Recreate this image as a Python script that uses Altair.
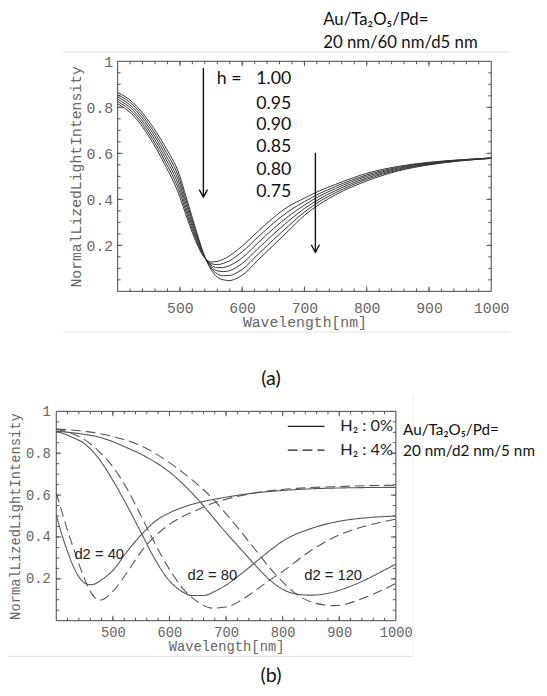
import altair as alt
import pandas as pd

# ---------------- panel (a) data ----------------
wl_a = [400, 425, 450, 475, 500, 510, 520, 530, 540, 550, 560, 570, 580,
        590, 600, 625, 650, 675, 700, 725, 750, 800, 850, 900, 950, 1000]
h_values = ["1.00", "0.95", "0.90", "0.85", "0.80", "0.75"]
I_h100 = [.815, .765, .675, .555, .410, .330, .255, .190, .145, .128, .130, .140, .155,
          .175, .197, .260, .320, .370, .405, .438, .465, .513, .543, .561, .572, .580]
I_h095 = [.825, .776, .688, .571, .428, .346, .268, .198, .146, .121, .116, .122, .133,
          .151, .172, .235, .296, .349, .390, .426, .456, .506, .539, .559, .571, .580]
I_h090 = [.835, .787, .701, .587, .446, .362, .281, .206, .147, .115, .103, .104, .112,
          .127, .146, .210, .272, .328, .375, .415, .447, .500, .535, .557, .570, .579]
I_h085 = [.845, .798, .714, .603, .464, .378, .294, .214, .148, .108, .089, .086, .090,
          .103, .121, .185, .248, .307, .360, .403, .438, .493, .531, .554, .569, .579]
I_h080 = [.855, .809, .727, .619, .482, .394, .307, .222, .149, .102, .076, .068, .069,
          .079, .095, .160, .224, .286, .345, .392, .429, .487, .527, .552, .568, .578]
I_h075 = [.865, .820, .740, .635, .500, .410, .320, .230, .150, .095, .062, .050, .047,
          .055, .070, .135, .200, .265, .330, .380, .420, .480, .523, .550, .567, .578]
curves_a = [I_h100, I_h095, I_h090, I_h085, I_h080, I_h075]

# ---------------- panel (b) data ----------------
wl_s40 = [400, 410, 420, 430, 440, 450, 460, 470, 480, 500, 525, 550, 575, 600, 625,
          650, 700, 750, 800, 850, 900, 950, 1000]
I_s40 = [.505, .410, .330, .260, .210, .180, .172, .178, .195, .240, .330, .410, .475,
         .515, .543, .563, .590, .610, .622, .630, .634, .636, .637]
wl_d40 = [400, 410, 420, 430, 440, 450, 460, 470, 477, 485, 500, 525, 550, 575, 600,
          625, 650, 675, 700, 750, 800, 850, 900, 950, 1000]
I_d40 = [.610, .520, .430, .350, .270, .200, .140, .105, .098, .105, .140, .230, .330,
         .405, .460, .500, .530, .560, .580, .610, .627, .636, .641, .645, .647]
wl_s80 = [400, 425, 450, 475, 500, 525, 550, 575, 600, 625, 640, 660, 680, 700, 725,
          750, 775, 800, 850, 900, 950, 1000]
I_s80 = [.905, .880, .845, .775, .670, .550, .420, .290, .190, .135, .120, .120, .140,
         .170, .220, .275, .330, .380, .440, .475, .492, .500]
wl_d80 = [400, 425, 450, 475, 500, 525, 550, 575, 600, 625, 650, 675, 700, 725, 750,
          775, 800, 850, 900, 950, 1000]
I_d80 = [.915, .897, .865, .810, .735, .630, .500, .365, .245, .150, .090, .060, .065,
         .095, .140, .190, .235, .335, .410, .455, .485]
wl_s120 = [400, 450, 475, 500, 525, 550, 575, 600, 625, 650, 675, 700, 725, 750, 775,
           800, 825, 850, 875, 900, 925, 950, 975, 1000]
I_s120 = [.905, .890, .877, .855, .826, .795, .757, .710, .650, .580, .500, .420, .345,
          .270, .200, .150, .127, .122, .128, .145, .170, .200, .235, .270]
wl_d120 = [400, 450, 500, 550, 600, 625, 650, 675, 700, 725, 750, 775, 800, 825, 850,
           875, 890, 910, 930, 950, 975, 1000]
I_d120 = [.915, .905, .880, .835, .755, .705, .650, .587, .510, .430, .345, .260, .185,
          .125, .090, .075, .072, .078, .095, .115, .145, .178]

x_ticks = [500, 600, 700, 800, 900, 1000]
y_ticks = [0.2, 0.4, 0.6, 0.8, 1.0]

# ---------------- build tables ----------------
rows = []
for h, ys in zip(h_values, curves_a):
    for w, v in zip(wl_a, ys):
        rows.append({"wl": w, "I": v, "h": h})
df_a = pd.DataFrame(rows)

rows = []
for name, h2, wls, ys in [("40", "0%", wl_s40, I_s40), ("40", "4%", wl_d40, I_d40),
                          ("80", "0%", wl_s80, I_s80), ("80", "4%", wl_d80, I_d80),
                          ("120", "0%", wl_s120, I_s120), ("120", "4%", wl_d120, I_d120)]:
    for w, v in zip(wls, ys):
        rows.append({"wl": w, "I": v, "d2": name, "h2": h2, "series": name + h2})
df_b = pd.DataFrame(rows)

MONO = "Liberation Mono"
SANS = "Lato"
AXC = "#666666"
W, H = 539, 680


def make_axes(xr, yr, xoff, yoff, fs, lpx, lpy, tpx, tpy):
    sx = alt.Scale(domain=[400, 1000], range=xr, nice=False, zero=False)
    sy = alt.Scale(domain=[0, 1], range=yr, nice=False, zero=False)
    ax = alt.Axis(orient="bottom", offset=xoff, values=x_ticks, format="d",
                  title="Wavelength[nm]", domain=False, ticks=False, grid=False,
                  labelFont=MONO, labelFontSize=fs, labelColor=AXC, labelPadding=lpx,
                  labelFlush=False, labelOverlap=False,
                  titleFont=MONO, titleFontSize=fs, titleColor=AXC,
                  titleFontWeight="normal", titlePadding=tpx)
    ay = alt.Axis(orient="left", offset=yoff, values=y_ticks,
                  labelExpr="datum.value == 1 ? '1' : format(datum.value, '.1f')",
                  title="NormalLizedLightIntensity", domain=False, ticks=False, grid=False,
                  labelFont=MONO, labelFontSize=fs, labelColor=AXC, labelPadding=lpy,
                  labelOverlap=False,
                  titleFont=MONO, titleFontSize=fs, titleColor=AXC,
                  titleFontWeight="normal", titlePadding=tpy)
    return sx, sy, ax, ay


def frame_layers(sx, sy, ax, ay):
    out = []
    frame = pd.DataFrame({"x": [400], "x2": [1000], "y": [0], "y2": [1]})
    out.append(alt.Chart(frame).mark_rect(fillOpacity=0, stroke="#444444", strokeWidth=1).encode(
        x=alt.X("x:Q", scale=sx, axis=ax), x2="x2",
        y=alt.Y("y:Q", scale=sy, axis=ay), y2="y2"))
    specs = [(x_ticks[:-1], [0.2, 0.4, 0.6, 0.8], 5),
             (list(range(420, 1000, 20)), [round(0.05 * i, 2) for i in range(1, 20)], 3)]
    for xv, yv, L in specs:
        dx = pd.DataFrame({"v": xv})
        dy = pd.DataFrame({"v": yv})
        for yd, off in [(0, -L / 2), (1, L / 2)]:
            out.append(alt.Chart(dx).mark_tick(orient="vertical", size=L, thickness=1,
                                                color="#555555", opacity=1, yOffset=off).encode(
                x=alt.X("v:Q", scale=sx, axis=ax),
                y=alt.YDatum(yd, type="quantitative", scale=sy, axis=ay)))
        for xd, off in [(400, L / 2), (1000, -L / 2)]:
            out.append(alt.Chart(dy).mark_tick(orient="horizontal", size=L, thickness=1,
                                                color="#555555", opacity=1, xOffset=off).encode(
                y=alt.Y("v:Q", scale=sy, axis=ay),
                x=alt.XDatum(xd, type="quantitative", scale=sx, axis=ax)))
    return out


# ---------------- panel (a) ----------------
sxA, syA, axA, ayA = make_axes([111.3, 490.5], [282.5, 49.0], 282.5 - H, -111.3,
                               15, 9, 5, 0, 3)
layersA = frame_layers(sxA, syA, axA, ayA)
layersA.append(alt.Chart(df_a).mark_line(color="#333333", strokeWidth=1,
                                         interpolate="monotone").encode(
    x=alt.X("wl:Q", scale=sxA, axis=axA), y=alt.Y("I:Q", scale=syA, axis=ayA),
    detail="h:N"))

arrows = pd.DataFrame({"wl": [537.7, 717.6], "top": [0.971, 0.602], "tip": [0.41, 0.17]})
layersA.append(alt.Chart(arrows).mark_rule(color="#111111", strokeWidth=1.4).encode(
    x=alt.X("wl:Q", scale=sxA, axis=axA), y=alt.Y("top:Q", scale=syA, axis=ayA), y2="tip"))
layersA.append(alt.Chart(arrows).mark_point(shape="M-0.55,-1L0,0L0.55,-1", filled=False,
                                            size=230, strokeWidth=1.4, color="#111111",
                                            opacity=1).encode(
    x=alt.X("wl:Q", scale=sxA, axis=axA), y=alt.Y("tip:Q", scale=syA, axis=ayA)))

hlab = pd.DataFrame({"t": h_values, "wl": [622.6] * 6,
                     "I": [0.923, 0.816, 0.722, 0.626, 0.529, 0.433]})
layersA.append(alt.Chart(hlab).mark_text(font=SANS, fontSize=18, align="left",
                                         baseline="middle", color="#111111").encode(
    x=alt.X("wl:Q", scale=sxA, axis=axA), y=alt.Y("I:Q", scale=syA, axis=ayA), text="t:N"))
hdr = pd.DataFrame({"t": ["h ="], "wl": [559.3], "I": [0.923]})
layersA.append(alt.Chart(hdr).mark_text(font=SANS, fontSize=18, align="left",
                                        baseline="middle", color="#111111").encode(
    x=alt.X("wl:Q", scale=sxA, axis=axA), y=alt.Y("I:Q", scale=syA, axis=ayA), text="t:N"))
panelA = alt.layer(*layersA)

# ---------------- panel (b) ----------------
sxB, syB, axB, ayB = make_axes([49.0, 393.7], [616.8, 404.3], 616.8 - H, -49.0,
                               14, 5, 6, 0, 3)
layersB = frame_layers(sxB, syB, axB, ayB)
layersB.append(alt.Chart(df_b).mark_line(color="#555555", strokeWidth=1.1,
                                         interpolate="monotone").encode(
    x=alt.X("wl:Q", scale=sxB, axis=axB), y=alt.Y("I:Q", scale=syB, axis=ayB),
    strokeDash=alt.StrokeDash("h2:N", scale=alt.Scale(domain=["0%", "4%"],
                                                      range=[[1, 0], [10, 5]]), legend=None),
    detail="series:N"))

d2lab = pd.DataFrame({"t": ["d2 = 40", "d2 = 80", "d2 = 120"], "wl": [432, 632, 838],
                      "I": [0.317, 0.219, 0.219]})
layersB.append(alt.Chart(d2lab).mark_text(font="Liberation Sans", fontSize=15, align="left",
                                          baseline="middle", color="#222222").encode(
    x=alt.X("wl:Q", scale=sxB, axis=axB), y=alt.Y("I:Q", scale=syB, axis=ayB), text="t:N"))

leg = pd.DataFrame({"h2": ["0%", "4%"], "w1": [809, 809], "w2": [874, 874],
                    "I": [0.928, 0.815], "t": ["H\u2082 : 0%", "H\u2082 : 4%"],
                    "wt": [994.8, 994.8]})
layersB.append(alt.Chart(leg).mark_rule(color="#222222", strokeWidth=1.3).encode(
    x=alt.X("w1:Q", scale=sxB, axis=axB), x2="w2", y=alt.Y("I:Q", scale=syB, axis=ayB),
    strokeDash=alt.StrokeDash("h2:N", scale=alt.Scale(domain=["0%", "4%"],
                                                      range=[[1, 0], [6, 4]]), legend=None)))
layersB.append(alt.Chart(leg).mark_text(font=SANS, fontSize=16.5, align="right",
                                        baseline="middle", color="#222222").encode(
    x=alt.X("wt:Q", scale=sxB, axis=axB), y=alt.Y("I:Q", scale=syB, axis=ayB), text="t:N"))
panelB = alt.layer(*layersB)

# ---------------- page decorations ----------------
one = pd.DataFrame({"a": [0]})
deco = []
for x1, x2, y, c in [(56, 510, 39.5, "#dddddd"), (56, 510, 323.7, "#e4e4e4"),
                     (0, 411, 653, "#dddddd")]:
    deco.append(alt.Chart(one).mark_rule(color=c, strokeWidth=1).encode(
        x=alt.value(x1), x2=alt.value(x2), y=alt.value(y)))
deco.append(alt.Chart(one).mark_rule(color="#eeeeee", strokeWidth=1).encode(
    x=alt.value(411), y=alt.value(387), y2=alt.value(653)))

texts = [("Au/Ta\u2082O\u2085/Pd=", 320, 7, 17, "left"),
         ("20 nm/60 nm/d5 nm", 320, 30.3, 17, "left"),
         ("Au/Ta\u2082O\u2085/Pd=", 401, 423, 15.5, "left"),
         ("20 nm/d2 nm/5 nm", 401, 445, 15.5, "left"),
         ("(a)", 267, 372, 20, "center"),
         ("(b)", 267, 673, 20, "center")]
for t, x, y, fs, al in texts:
    deco.append(alt.Chart(one).mark_text(text=t, font=SANS, fontSize=fs, align=al,
                                         baseline="middle", color="#111111").encode(
        x=alt.value(x), y=alt.value(y)))

chart = alt.layer(panelA, panelB, *deco).resolve_scale(
    x="independent", y="independent").resolve_axis(x="independent", y="independent").properties(
    width=W, height=H, padding=0, autosize=alt.AutoSizeParams(type="none")
).configure_view(stroke=None)

chart.save("out.html", embed_options={"renderer": "svg", "actions": False})
